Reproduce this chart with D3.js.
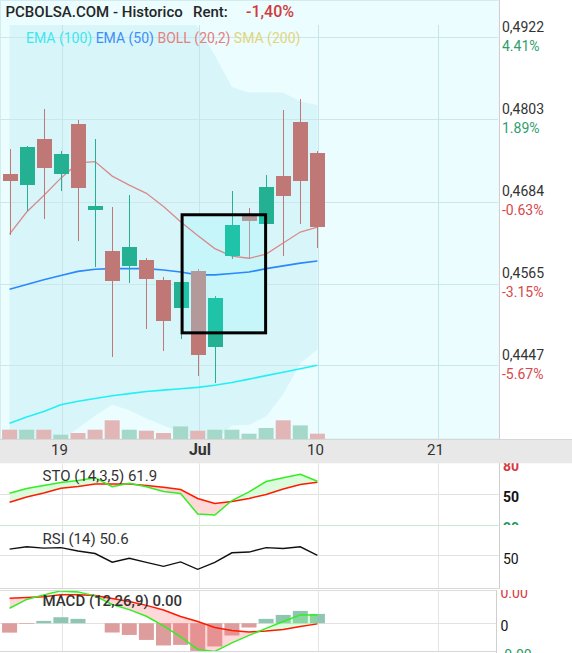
<!doctype html>
<html>
<head>
  <meta charset="utf-8">
  <title>PCBOLSA.COM - Historico</title>
  <script src="https://cdnjs.cloudflare.com/ajax/libs/d3/7.8.5/d3.min.js"></script>
  <style>
    html, body { margin: 0; padding: 0; background: #fff; }
    body { width: 572px; height: 653px; overflow: hidden; }
    svg text { font-family: Roboto, "Noto Sans", sans-serif; }
  </style>
</head>
<body>
<div id="chart"></div>
<script>
// ---- data ----
const dates = ['2025-06-16','2025-06-17','2025-06-18','2025-06-19','2025-06-20','2025-06-23','2025-06-24',
  '2025-06-25','2025-06-26','2025-06-27','2025-06-30','2025-07-01','2025-07-02','2025-07-03','2025-07-04',
  '2025-07-07','2025-07-08','2025-07-09','2025-07-10'];
const open  = [0.4724,0.4708,0.4774,0.4724,0.4797,0.4672,0.4613,0.4591,0.4600,0.4571,0.4530,0.4584,0.4473,0.4605,0.4664,0.4652,0.4721,0.4800,0.4755];
const high  = [0.4760,0.4764,0.4818,0.4758,0.4802,0.4774,0.4676,0.4693,0.4602,0.4575,0.4569,0.4586,0.4547,0.4700,0.4675,0.4722,0.4816,0.4832,0.4757];
const low   = [0.4636,0.4671,0.4659,0.4699,0.4627,0.4589,0.4459,0.4566,0.4499,0.4468,0.4485,0.4431,0.4421,0.4601,0.4601,0.4650,0.4605,0.4651,0.4617];
const close = [0.4714,0.4763,0.4733,0.4753,0.4704,0.4678,0.4569,0.4619,0.4572,0.4511,0.4567,0.4462,0.4545,0.4650,0.4656,0.4705,0.4692,0.4714,0.4648];
const volume = [930,930,930,430,600,930,1870,930,830,600,1260,830,930,930,530,1100,1870,1360,530];

const ema100  = [0.4363,0.4372,0.4380,0.4390,0.4395,0.4399,0.4403,0.4406,0.4409,0.4411,0.4413,0.4415,0.4418,0.4422,0.4427,0.4432,0.4437,0.4442,0.4447];
const ema50   = [0.4557,0.4564,0.4571,0.4577,0.4583,0.4586,0.4587,0.4587,0.4587,0.4585,0.4582,0.4578,0.4578,0.4580,0.4582,0.4587,0.4591,0.4595,0.4598];
const bollMid = [0.4637,0.4669,0.4693,0.4718,0.4740,0.4742,0.4721,0.4708,0.4696,0.4677,0.4655,0.4635,0.4616,0.4605,0.4602,0.4608,0.4624,0.4640,0.4647];
const bollUp  = [0.4964,0.5021,0.5060,0.5097,0.5123,0.5110,0.5051,0.5034,0.5022,0.4994,0.4961,0.4937,0.4896,0.4850,0.4842,0.4842,0.4842,0.4829,0.4824];
const bollLow = [0.4309,0.4316,0.4327,0.4338,0.4356,0.4374,0.4390,0.4382,0.4370,0.4360,0.4350,0.4334,0.4337,0.4360,0.4361,0.4373,0.4405,0.4450,0.4470];

const stoK = [50.2,54.8,57.7,60.6,62.6,65.3,56.6,59.9,56.6,51.9,50.0,30.2,29.2,43.2,51.5,61.6,65.3,68.6,61.9];
const stoD = [41.5,46.6,50.5,55.0,56.8,59.2,59.2,59.2,57.7,56.0,53.9,45.2,40.3,42.3,45.2,49.0,54.4,58.7,60.8];
const rsi  = [56.7,59.0,57.6,58.1,54.8,52.4,44.0,47.8,43.8,40.0,44.3,37.1,43.8,53.1,53.8,58.1,57.3,58.9,50.6];
const macd       = [0.00135,0.00215,0.00256,0.00292,0.00283,0.00247,0.00169,0.00123,0.00063,-0.00024,-0.00124,-0.00237,-0.00255,-0.00178,-0.00110,-0.00047,0.00016,0.00075,0.00075];
const macdSignal = [0.00226,0.00233,0.00240,0.00256,0.00256,0.00251,0.00224,0.00197,0.00161,0.00120,0.00060,0.00016,-0.00038,-0.00065,-0.00079,-0.00070,-0.00056,-0.00029,-0.00006];
const macdHist   = [-0.00085,-0.00006,0.00021,0.00054,0.00039,0,-0.00084,-0.00106,-0.00151,-0.00201,-0.00196,-0.00250,-0.00210,-0.00111,-0.00039,0.00039,0.00075,0.00111,0.00084];

// axes / labels
const priceTicks = [0.4922, 0.4803, 0.4684, 0.4565, 0.4447];
const pctTicks = ['4.41%', '1.89%', '-0.63%', '-3.15%', '-5.67%'];
const dateTicks = ['2025-06-19', '2025-07-01', '2025-07-10', '2025-07-21'];
const dateTickLabels = ['19', 'Jul', '10', '21'];
const stoTicks = [80, 50, 20];
const rsiTicks = [50];
const macdTicks = [0.0030, 0, -0.0026];
const macdTickLabels = ['0.00', '0', '-0.00'];
const legendNames = ['EMA (100)', 'EMA (50)', 'BOLL (20,2)', 'SMA (200)'];
const highlight = { from: '2025-06-30', to: '2025-07-07', top: 0.4665, bottom: 0.4494 };
const title = 'PCBOLSA.COM - Historico';
const rentLabel = 'Rent:';
const rentText = '-1,40%';

// ---- layout ----
const W = 572, H = 653, plotR = 498.7;
const legendColors = ['#3ee6f0', '#3d8ef8', '#e57f82', '#e3d57c'];
const RED = '#c07876', GREEN = '#23b093';

const svg = d3.select('#chart').append('svg').attr('width', W).attr('height', H);
const defs = svg.append('defs');

const parse = d3.utcParse('%Y-%m-%d');
const day0 = parse(dates[0]);
const tradeIdx = s => d3.utcDays(day0, parse(s)).filter(d => d.getUTCDay() % 6 !== 0).length;

const x = d3.scaleLinear().domain([-0.56, 28.6]).range([0, plotR]);
const y = d3.scaleLinear().domain([priceTicks[4], priceTicks[0]]).range([365.3, 37.3]);
const idx = d3.range(dates.length);

function clip(id, x0, y0, w, h) {
  defs.append('clipPath').attr('id', id).append('rect')
    .attr('x', x0).attr('y', y0).attr('width', w).attr('height', h);
  return `url(#${id})`;
}

// main background
svg.append('rect').attr('x', 0).attr('y', 0).attr('width', plotR).attr('height', 439).attr('fill', '#ebfdfe');
svg.append('rect').attr('x', 0.5).attr('y', 0.5).attr('width', plotR).attr('height', 438.5)
  .attr('fill', 'none').attr('stroke', '#d4ecee');

const main = svg.append('g').attr('clip-path', clip('clip-main', 0, 25, plotR, 414));

// bollinger band
main.append('path')
  .attr('d', d3.area().x(i => x(i)).y0(i => y(bollLow[i])).y1(i => y(bollUp[i]))(idx))
  .attr('fill', '#d8f6f9');

// grid
main.selectAll('.hgrid').data(priceTicks).join('line')
  .attr('x1', 0).attr('x2', plotR)
  .attr('y1', d => Math.round(y(d)) + 0.5).attr('y2', d => Math.round(y(d)) + 0.5)
  .attr('stroke', '#cbe7ea');
const gridX = dateTicks.map(d => Math.round(x(tradeIdx(d)) + 1) + 0.5);
main.selectAll('.vgrid').data(gridX).join('line')
  .attr('x1', d => d).attr('x2', d => d).attr('y1', 25).attr('y2', 439)
  .attr('stroke', '#c6e5e8');

// volume
const vy = d3.scaleLinear().domain([0, d3.max(volume)]).range([439, 420.3]);
main.selectAll('.vol').data(idx).join('rect')
  .attr('x', i => x(i) - 7.5).attr('width', 15)
  .attr('y', i => vy(volume[i])).attr('height', i => 439 - vy(volume[i]))
  .attr('fill', i => (i > 0 ? close[i] >= close[i - 1] : close[i] >= open[i]) ? '#a4d9c9' : '#e2b6b6');

// highlight box fill
const bx0 = x(tradeIdx(highlight.from)) + 1.5, bx1 = x(tradeIdx(highlight.to)) - 0.5;
const by0 = y(highlight.top), by1 = y(highlight.bottom);
main.append('rect').attr('x', bx0).attr('y', by0).attr('width', bx1 - bx0).attr('height', by1 - by0)
  .attr('fill', '#c6f6fa');

// indicator lines
const priceLine = arr => d3.line().x(i => x(i)).y(i => y(arr[i]))(idx);
main.append('path').attr('d', priceLine(ema100)).attr('fill', 'none').attr('stroke', '#22f0f4').attr('stroke-width', 1.6);
main.append('path').attr('d', priceLine(ema50)).attr('fill', 'none').attr('stroke', '#2a88ff').attr('stroke-width', 1.6);
main.append('path').attr('d', priceLine(bollMid)).attr('fill', 'none').attr('stroke', '#d98a8c').attr('stroke-width', 1.3);

// candles
function drawCandles(g, red, green) {
  const c = g.selectAll('.c').data(idx).join('g').attr('shape-rendering', 'crispEdges');
  c.append('line')
    .attr('x1', i => Math.round(x(i)) + 0.5).attr('x2', i => Math.round(x(i)) + 0.5)
    .attr('y1', i => y(high[i])).attr('y2', i => y(low[i]))
    .attr('stroke', i => close[i] >= open[i] ? green : red).attr('stroke-width', 1.4);
  c.append('rect')
    .attr('x', i => Math.round(x(i)) - 7).attr('width', 15)
    .attr('y', i => y(Math.max(open[i], close[i])))
    .attr('height', i => Math.max(1, Math.abs(y(open[i]) - y(close[i]))))
    .attr('fill', i => close[i] >= open[i] ? green : red);
}
drawCandles(main.append('g'), RED, GREEN);
drawCandles(main.append('g').attr('clip-path', clip('clip-box', bx0, by0, bx1 - bx0, by1 - by0)), '#b39999', '#1fc3a8');

// highlight box border
svg.append('rect').attr('x', bx0).attr('y', by0).attr('width', bx1 - bx0).attr('height', by1 - by0)
  .attr('fill', 'none').attr('stroke', '#000').attr('stroke-width', 3);

// title + legend
svg.append('text').attr('x', 5.5).attr('y', 16.5).attr('font-size', 15).attr('font-weight', 500)
  .attr('fill', '#262626').text(title);
svg.append('text').attr('x', 193).attr('y', 16.5).attr('font-size', 15).attr('font-weight', 500)
  .attr('fill', '#262626').text(rentLabel);
svg.append('text').attr('x', 246).attr('y', 16.5).attr('font-size', 16).attr('font-weight', 500)
  .attr('fill', '#d23a3c').text(rentText);
const lg = svg.append('text').attr('x', 26).attr('y', 43).attr('font-size', 14);
legendNames.forEach((n, i) => {
  lg.append('tspan').attr('fill', legendColors[i]).text(n + (i < legendNames.length - 1 ? ' ' : ''));
});

// right axis (price)
svg.append('rect').attr('x', plotR).attr('y', 0).attr('width', W - plotR).attr('height', 439).attr('fill', '#fff');
svg.append('line').attr('x1', 499.5).attr('x2', 499.5).attr('y1', 0).attr('y2', 439).attr('stroke', '#cfcfcf');
const ax = svg.append('g').attr('font-size', 14);
ax.selectAll('.pv').data(priceTicks).join('text')
  .attr('x', 502).attr('y', d => y(d) - 5.5).attr('fill', '#333')
  .text(d => d3.format('.4f')(d).replace('.', ','));
ax.selectAll('.pp').data(pctTicks).join('text')
  .attr('x', 502).attr('y', (d, i) => y(priceTicks[i]) + 13.5)
  .attr('fill', d => d.startsWith('-') ? '#d8474a' : '#2f9e6d').text(d => d);

// x axis band
svg.append('rect').attr('x', 0).attr('y', 439).attr('width', W).attr('height', 24.3).attr('fill', '#e8e8e8');
svg.append('line').attr('x1', 0).attr('x2', W).attr('y1', 439.5).attr('y2', 439.5).attr('stroke', '#d6d6d6');
svg.selectAll('.xl').data(dateTickLabels).join('text')
  .attr('x', (d, i) => isNaN(+d) ? gridX[i] + 0.5 : gridX[i] - 3)
  .attr('y', 454.5).attr('text-anchor', 'middle')
  .attr('font-size', d => isNaN(+d) ? 16 : 15).attr('font-weight', d => isNaN(+d) ? 700 : 400)
  .attr('fill', '#333').text(d => d);

// ---- indicator panels ----
function panelGrid(top, bottom) {
  svg.selectAll(null).data(gridX).join('line')
    .attr('x1', d => d).attr('x2', d => d).attr('y1', top).attr('y2', bottom).attr('stroke', '#e4e4e4');
}
function crossFill(g, id, a, b, ys, top, bottom, upFill, downFill) {
  const below = arr => d3.area().x(i => x(i)).y0(i => ys(arr[i])).y1(bottom)(idx);
  const above = arr => d3.area().x(i => x(i)).y0(top).y1(i => ys(arr[i]))(idx);
  defs.append('clipPath').attr('id', id + '-a').append('path').attr('d', below(a));
  defs.append('clipPath').attr('id', id + '-b').append('path').attr('d', below(b));
  g.append('path').attr('d', above(b)).attr('clip-path', `url(#${id}-a)`).attr('fill', upFill);
  g.append('path').attr('d', above(a)).attr('clip-path', `url(#${id}-b)`).attr('fill', downFill);
}
const panelLine = (g, arr, ys, color, w) => g.append('path')
  .attr('d', d3.line().x(i => x(i)).y(i => ys(arr[i]))(idx))
  .attr('fill', 'none').attr('stroke', color).attr('stroke-width', w);

// STO
const sy = d3.scaleLinear().domain([20, 80]).range([524.5, 462.5]);
panelGrid(463.3, 525);
svg.append('line').attr('x1', 0).attr('x2', plotR).attr('y1', Math.round(sy(50)) + 0.5).attr('y2', Math.round(sy(50)) + 0.5).attr('stroke', '#e2e2e2');
const stoG = svg.append('g').attr('clip-path', clip('clip-sto', 0, 463.3, plotR, 61.7));
crossFill(stoG, 'sto', stoK, stoD, sy, 463, 525, '#dcfbdc', '#ffd8d8');
panelLine(stoG, stoD, sy, '#ff1a00', 1.5);
panelLine(stoG, stoK, sy, '#33ee22', 1.5);
svg.append('text').attr('x', 42.5).attr('y', 480.5).attr('font-size', 15).attr('fill', '#333')
  .text(`STO (14,3,5) ${stoK[stoK.length - 1].toFixed(1)}`);
const stoAx = svg.append('g').attr('clip-path', clip('clip-stoax', plotR, 463.3, W - plotR, 61.7));
stoAx.selectAll('text').data(stoTicks).join('text')
  .attr('x', 503).attr('y', d => sy(d) + 8).attr('font-size', 14).attr('font-weight', 700)
  .attr('fill', d => d > 50 ? '#d9363e' : d < 50 ? '#1f9a5c' : '#111').text(d => d);
svg.append('line').attr('x1', 0).attr('x2', plotR).attr('y1', 525.5).attr('y2', 525.5).attr('stroke', '#c8ecc8');

// RSI
const ry = d3.scaleLinear().domain([20, 80]).range([587, 525]);
panelGrid(525, 588);
svg.append('line').attr('x1', 0).attr('x2', plotR).attr('y1', Math.round(ry(50)) - 0.5).attr('y2', Math.round(ry(50)) - 0.5).attr('stroke', '#e2e2e2');
const rsiG = svg.append('g').attr('clip-path', clip('clip-rsi', 0, 526, plotR, 62));
panelLine(rsiG, rsi, ry, '#111', 1.4);
svg.append('text').attr('x', 42.5).attr('y', 543.5).attr('font-size', 15).attr('fill', '#333')
  .text(`RSI (14) ${rsi[rsi.length - 1].toFixed(1)}`);
svg.selectAll('.rt').data(rsiTicks).join('text')
  .attr('x', 503).attr('y', d => ry(d) + 7.5).attr('font-size', 14).attr('fill', '#111').text(d => d);
svg.append('line').attr('x1', 0).attr('x2', plotR).attr('y1', 588.5).attr('y2', 588.5).attr('stroke', '#d8d8d8');
svg.append('line').attr('x1', 499.5).attr('x2', 499.5).attr('y1', 463).attr('y2', 589).attr('stroke', '#cfcfcf');

// MACD
const mR = 496.5;
const my = d3.scaleLinear().domain([-0.0026, 0.0030]).range([652, 590]);
panelGrid(590, 652);
svg.append('line').attr('x1', 0).attr('x2', mR).attr('y1', 590.5).attr('y2', 590.5).attr('stroke', '#dcdcdc');
svg.append('line').attr('x1', 0).attr('x2', mR).attr('y1', Math.round(my(0)) + 0.5).attr('y2', Math.round(my(0)) + 0.5).attr('stroke', '#e2e2e2');
const macdG = svg.append('g').attr('clip-path', clip('clip-macd', 0, 591, mR, 61));
macdG.selectAll('.h').data(idx).join('rect')
  .attr('x', i => x(i) - 7.5).attr('width', 15)
  .attr('y', i => my(Math.max(0, macdHist[i])))
  .attr('height', i => Math.abs(my(macdHist[i]) - my(0)))
  .attr('fill', i => macdHist[i] >= 0 ? '#8fc6b2' : '#de9d9d');
crossFill(macdG, 'macd', macd, macdSignal, my, 590, 652, 'rgba(120,255,120,0.25)', 'rgba(255,120,120,0.28)');
panelLine(macdG, macdSignal, my, '#ff1a00', 1.5);
panelLine(macdG, macd, my, '#33ee22', 1.5);
svg.append('text').attr('x', 42.5).attr('y', 606).attr('font-size', 15).attr('font-weight', 500).attr('fill', '#333')
  .text(`MACD (12,26,9) ${macd[macd.length - 1].toFixed(2)}`);
const macdAx = svg.append('g').attr('clip-path', clip('clip-macdax', mR, 590, W - mR, 63));
macdAx.selectAll('text').data(macdTicks).join('text')
  .attr('x', 500.5).attr('y', d => my(d) + 7.5).attr('font-size', 14)
  .attr('fill', d => d > 0 ? '#d9363e' : d < 0 ? '#1f9a5c' : '#111')
  .text((d, i) => macdTickLabels[i]);
svg.append('line').attr('x1', mR).attr('x2', mR).attr('y1', 590).attr('y2', 653).attr('stroke', '#cfcfcf');
svg.append('line').attr('x1', 0).attr('x2', mR).attr('y1', 651.5).attr('y2', 651.5).attr('stroke', '#d8d8d8');
</script>
</body>
</html>
